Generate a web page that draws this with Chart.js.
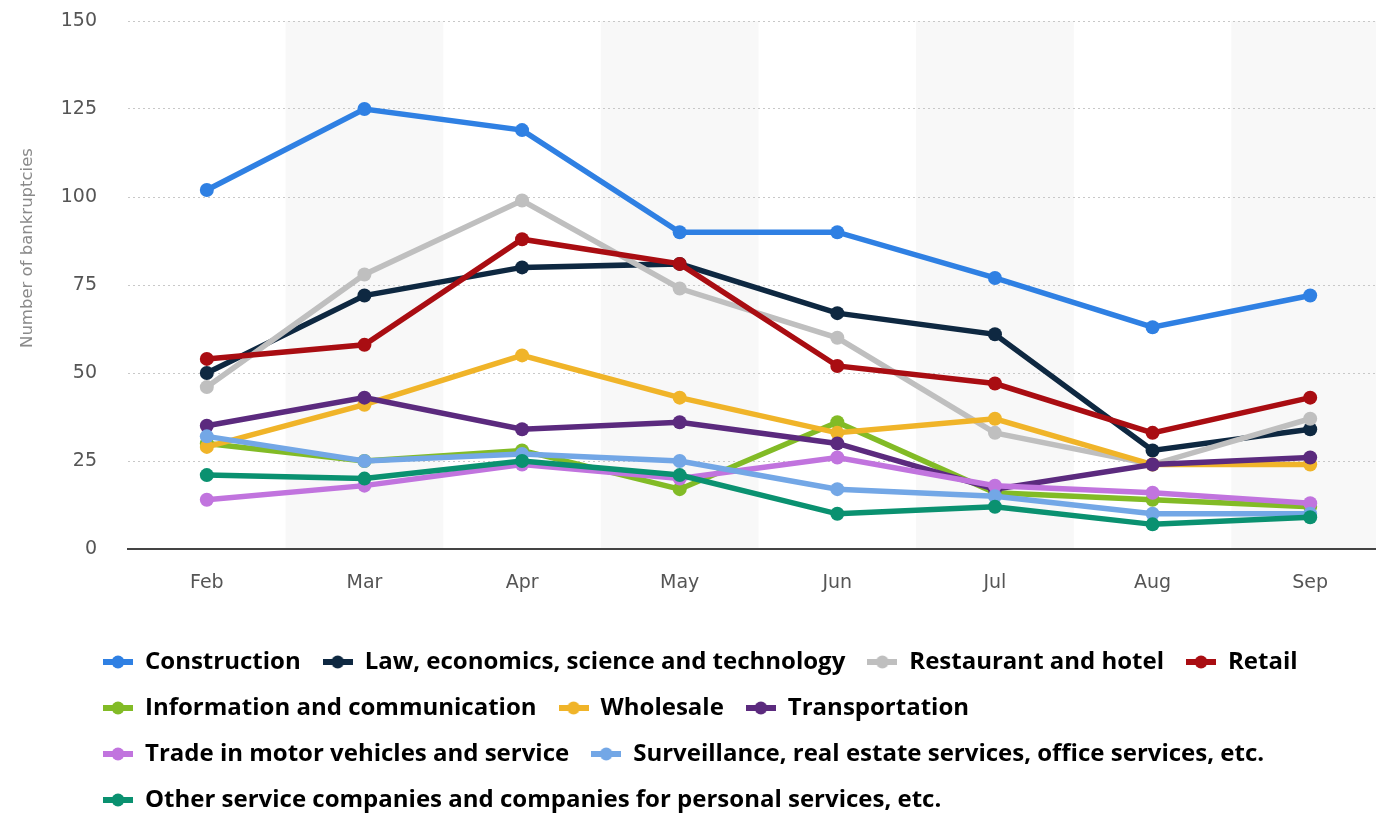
<!DOCTYPE html>
<html>
  <head>
    <script src="https://cdn.jsdelivr.net/npm/chart.js@4/dist/chart.umd.min.js"></script>
    <style>
      html, body { margin: 0; padding: 0; overflow: hidden; background: #fff; }
    </style>
  </head>
  <body>
    <canvas id="myChart" width="1396" height="814"></canvas>

    <script>
      var months = ["Feb", "Mar", "Apr", "May", "Jun", "Jul", "Aug", "Sep"];
      var yTicks = [0, 25, 50, 75, 100, 125, 150];

      var seriesNames = [
        "Construction",
        "Law, economics, science and technology",
        "Restaurant and hotel",
        "Retail",
        "Information and communication",
        "Wholesale",
        "Transportation",
        "Trade in motor vehicles and service",
        "Surveillance, real estate services, office services, etc.",
        "Other service companies and companies for personal services, etc.",
      ];

      var construction = [102, 125, 119, 90, 90, 77, 63, 72];
      var law = [50, 72, 80, 81, 67, 61, 28, 34];
      var restaurant = [46, 78, 99, 74, 60, 33, 24, 37];
      var retail = [54, 58, 88, 81, 52, 47, 33, 43];
      var infoComm = [30, 25, 28, 17, 36, 16, 14, 12];
      var wholesale = [29, 41, 55, 43, 33, 37, 24, 24];
      var transportation = [35, 43, 34, 36, 30, 17, 24, 26];
      var tradeMotor = [14, 18, 24, 20, 26, 18, 16, 13];
      var surveillance = [32, 25, 27, 25, 17, 15, 10, 10];
      var otherServices = [21, 20, 25, 21, 10, 12, 7, 9];

      var seriesValues = [
        construction, law, restaurant, retail, infoComm,
        wholesale, transportation, tradeMotor, surveillance, otherServices,
      ];

      var colors = [
        "#2f80e3", "#0e2841", "#bfbfbf", "#a90d12", "#82bb26",
        "#f0b429", "#5b2a7e", "#c174de", "#73a7e6", "#0a9170",
      ];

      // little line-with-dot images for the legend
      function makeMarker(color) {
        var c = document.createElement("canvas");
        c.width = 30;
        c.height = 14;
        var g = c.getContext("2d");
        g.strokeStyle = color;
        g.lineWidth = 6;
        g.beginPath();
        g.moveTo(0, 7);
        g.lineTo(30, 7);
        g.stroke();
        g.fillStyle = color;
        g.beginPath();
        g.arc(15, 7, 6.5, 0, Math.PI * 2);
        g.fill();
        return c;
      }
      var markers = colors.map(makeMarker);

      var datasets = seriesNames.map(function (name, i) {
        return {
          label: name,
          data: seriesValues[i],
          borderColor: colors[i],
          backgroundColor: colors[i],
          pointBackgroundColor: colors[i],
          pointBorderWidth: 0,
          pointRadius: 7,
          borderWidth: 5.5,
          tension: 0,
          fill: false,
          order: seriesNames.length - i,
        };
      });

      // shaded band behind every other month
      var bandsPlugin = {
        id: "bands",
        beforeDraw: function (chart) {
          var ctx = chart.ctx;
          var area = chart.chartArea;
          var x = chart.scales.x;
          var half = (x.getPixelForValue(1) - x.getPixelForValue(0)) / 2;
          ctx.save();
          ctx.fillStyle = "#f8f8f8";
          for (var i = 1; i < months.length; i += 2) {
            var cx = x.getPixelForValue(i);
            ctx.fillRect(cx - half, area.top, half * 2, area.bottom - area.top);
          }
          ctx.restore();
        },
      };

      // axis title sits a bit above centre in the original
      var yTitlePlugin = {
        id: "yTitle",
        afterDraw: function (chart) {
          var ctx = chart.ctx;
          ctx.save();
          ctx.translate(28, 248);
          ctx.rotate(-Math.PI / 2);
          ctx.font = "16.5px 'DejaVu Sans'";
          ctx.fillStyle = "#8a8a8a";
          ctx.textAlign = "center";
          ctx.textBaseline = "middle";
          ctx.fillText("Number of bankruptcies", 0, 0);
          ctx.restore();
        },
      };

      // legend starts a little further right than the layout gives
      var legendShift = {
        id: "legendShift",
        afterLayout: function (chart) {
          chart.legend.left += 41;
          chart.legend.right += 41;
        },
      };

      var ctx = document.getElementById("myChart").getContext("2d");
      var myChart = new Chart(ctx, {
        type: "line",
        data: { labels: months, datasets: datasets },
        plugins: [bandsPlugin, yTitlePlugin, legendShift],
        options: {
          responsive: false,
          animation: false,
          layout: { padding: { left: 40, top: 21, right: 0, bottom: -8 } },
          scales: {
            x: {
              offset: true,
              grid: { display: false },
              border: { display: true, color: "#444", width: 2 },
              ticks: {
                padding: 15,
                color: "#555",
                font: { family: "'DejaVu Sans'", size: 19 },
              },
              afterFit: function (scale) {
                scale.height = 79;
              },
            },
            y: {
              min: 0,
              max: 150,
              afterBuildTicks: function (scale) {
                scale.ticks = yTicks.map(function (v) {
                  return { value: v };
                });
              },
              grid: {
                color: "#c8c8c8",
                lineWidth: 1,
                drawTicks: true,
                tickLength: 31,
                tickColor: "rgba(0,0,0,0)",
              },
              border: { display: false, dash: [2, 3] },
              ticks: {
                padding: 0,
                color: "#555",
                font: { family: "'DejaVu Sans'", size: 19 },
              },
              afterFit: function (scale) {
                scale.width = 88;
              },
            },
          },
          plugins: {
            tooltip: { enabled: false },
            legend: {
              position: "bottom",
              align: "start",
              labels: {
                usePointStyle: true,
                pointStyleWidth: 30,
                padding: 22,
                color: "#2b2b2b",
                font: { family: "'Open Sans'", size: 24, weight: "bold" },
                generateLabels: function (chart) {
                  return chart.data.datasets.map(function (ds, i) {
                    return {
                      text: ds.label,
                      pointStyle: markers[i],
                      fillStyle: colors[i],
                      strokeStyle: colors[i],
                      lineWidth: 0,
                      hidden: false,
                      datasetIndex: i,
                    };
                  });
                },
              },
            },
          },
        },
      });
    </script>
  </body>
</html>
